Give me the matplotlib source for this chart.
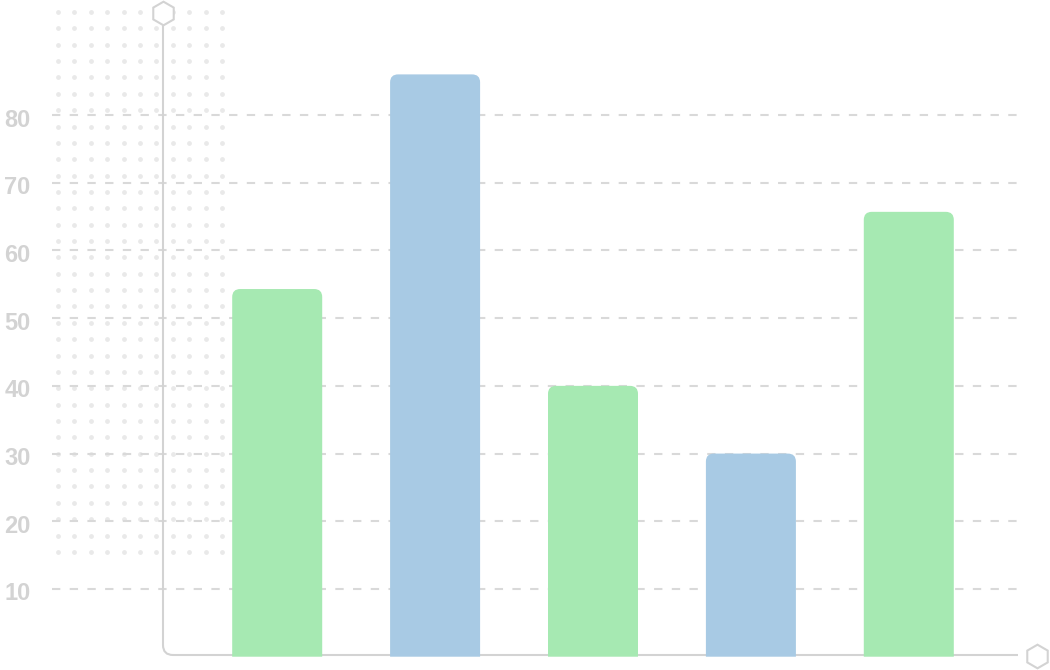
import numpy as np
import matplotlib.pyplot as plt
from matplotlib.path import Path
from matplotlib.patches import PathPatch
from matplotlib.transforms import Affine2D, ScaledTranslation

# data
values = [54.3, 86, 40, 30, 65.7]
bar_colors = ['#a6e9b2', '#a8cae4', '#a6e9b2', '#a8cae4', '#a6e9b2']
yticks = [10, 20, 30, 40, 50, 60, 70, 80]

W, H = 1050, 670
grey = '#d3d3d3'

fig = plt.figure(figsize=(W / 100, H / 100), dpi=100)
ax = fig.add_axes([0, 0, 1, 1])

# map data to the layout of the reference (pixels)
x0_px, dx_px = 277.2, 157.9      # first bar centre, bar spacing
y0_px, dy_px = 656.7, 6.771      # zero line, pixels per unit
ax.set_xlim(-x0_px / dx_px, (W - x0_px) / dx_px)
ax.set_ylim(-(H - y0_px) / dy_px, y0_px / dy_px)
for s in ax.spines.values():
    s.set_visible(False)
ax.set_xticks([])

# pixel transform (origin top-left)
px = Affine2D().scale(1 / W, -1 / H).translate(0, 1) + ax.transAxes

# dotted background pattern
gx, gy = np.meshgrid(58 + 16.4 * np.arange(11), 12 + 16.36 * np.arange(34))
ax.scatter(gx.ravel(), gy.ravel(), s=12, color='#e9e9e9', lw=0, transform=px, zorder=0)

# grid
ax.hlines(yticks, 52 / W, 1018 / W, transform=ax.get_yaxis_transform(),
          colors='#d9d9d9', lw=1.5, linestyles=(0, (4, 4.5)), zorder=1)

# y tick labels
ax.set_yticks(yticks)
ax.set_yticklabels([str(t) for t in yticks])
ax.tick_params(axis='y', length=0, pad=-3.2, labelsize=17, labelcolor=grey)
shift = ScaledTranslation(0, -2.5 / 100, fig.dpi_scale_trans)
for lab in ax.get_yticklabels():
    lab.set_ha('left')
    lab.set_fontweight('bold')
    lab.set_fontfamily('Liberation Sans')
    lab.set_transform(lab.get_transform() + shift)

# axis line with rounded corner
r = 10
verts = [(163, 23), (163, 655 - r), (163, 655), (163 + r, 655), (1018, 655)]
codes = [Path.MOVETO, Path.LINETO, Path.CURVE3, Path.CURVE3, Path.LINETO]
ax.add_patch(PathPatch(Path(verts, codes), fill=False, edgecolor=grey, lw=1.5,
                       transform=px, zorder=2))

# hexagon end markers
ax.plot([163, 1037], [13, 655.5], ls='none', marker='h', ms=17, mfc='white',
        mec=grey, mew=1.5, transform=px, zorder=4, clip_on=False)

# bars with rounded tops
bars = ax.bar(range(len(values)), values, width=0.57, color=bar_colors, zorder=3)
rx, ry = 8 / dx_px, 8 / dy_px
for b in bars:
    x0, y0 = b.get_x(), b.get_y()
    x1, y1 = x0 + b.get_width(), y0 + b.get_height()
    v = [(x0, y0), (x0, y1 - ry), (x0, y1), (x0 + rx, y1), (x1 - rx, y1),
         (x1, y1), (x1, y1 - ry), (x1, y0), (x0, y0)]
    c = [Path.MOVETO, Path.LINETO, Path.CURVE3, Path.CURVE3, Path.LINETO,
         Path.CURVE3, Path.CURVE3, Path.LINETO, Path.CLOSEPOLY]
    ax.add_patch(PathPatch(Path(v, c), facecolor=b.get_facecolor(), lw=0, zorder=3))
    b.set_visible(False)

fig.savefig('out.png', dpi=100)
